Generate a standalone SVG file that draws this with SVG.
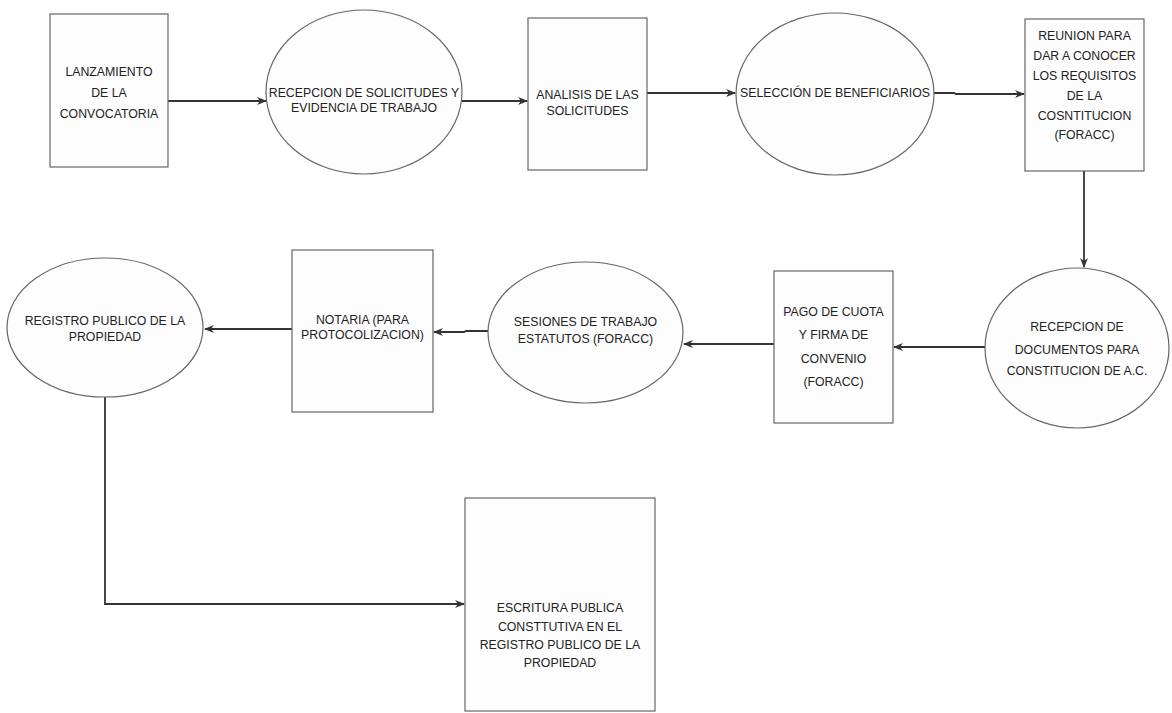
<svg xmlns="http://www.w3.org/2000/svg" width="1172" height="713" viewBox="0 0 1172 713">
<style>
.shape{fill:#fdfdfd;stroke:#666;stroke-width:1.2}
.t{font-family:"Liberation Sans",Arial,sans-serif;font-size:12.3px;fill:#222;text-anchor:middle}
.c{fill:none;stroke:#333;stroke-width:1.8}
</style>
<defs>
<marker id="ah" markerWidth="10" markerHeight="10" refX="9" refY="5" orient="auto" markerUnits="userSpaceOnUse">
<path d="M0,1 L10,5 L0,9 L3,5 Z" fill="#333"/>
</marker>
</defs>
<rect width="1172" height="713" fill="#ffffff"/>
<g id="connectors">
<line class="c" x1="168" y1="101" x2="266" y2="101" marker-end="url(#ah)"/>
<line class="c" x1="462" y1="101" x2="527" y2="101" marker-end="url(#ah)"/>
<line class="c" x1="647" y1="93" x2="735" y2="93" marker-end="url(#ah)"/>
<path class="c" d="M934,93 L954,93 L956,94 L1024,94" marker-end="url(#ah)"/>
<line class="c" x1="1084" y1="171" x2="1084" y2="267" marker-end="url(#ah)"/>
<line class="c" x1="985" y1="347" x2="894" y2="347" marker-end="url(#ah)"/>
<line class="c" x1="774" y1="344" x2="684" y2="344" marker-end="url(#ah)"/>
<path class="c" d="M488,331 L466,331 L464,332 L434,332" marker-end="url(#ah)"/>
<line class="c" x1="292" y1="329" x2="205" y2="329" marker-end="url(#ah)"/>
<path class="c" d="M105,397 L105,604 L464,604" marker-end="url(#ah)"/>
</g>
<g id="n1">
<rect class="shape" x="50" y="14" width="118" height="153"/>
<text class="t" x="109" y="76" font-size="13">LANZAMIENTO</text>
<text class="t" x="109" y="97" font-size="13">DE LA</text>
<text class="t" x="109" y="118" font-size="13">CONVOCATORIA</text>
</g>
<g id="n2">
<ellipse class="shape" cx="364" cy="92" rx="98" ry="82"/>
<text class="t" x="364" y="97">RECEPCION DE SOLICITUDES Y</text>
<text class="t" x="364" y="112">EVIDENCIA DE TRABAJO</text>
</g>
<g id="n3">
<rect class="shape" x="528" y="18" width="119" height="152"/>
<text class="t" x="587.5" y="99">ANALISIS DE LAS</text>
<text class="t" x="587.5" y="115">SOLICITUDES</text>
</g>
<g id="n4">
<ellipse class="shape" cx="835" cy="94" rx="99" ry="81"/>
<text class="t" x="835" y="97">SELECCIÓN DE BENEFICIARIOS</text>
</g>
<g id="n5">
<rect class="shape" x="1025" y="19" width="119" height="152"/>
<text class="t" x="1084.5" y="40">REUNION PARA</text>
<text class="t" x="1084.5" y="60">DAR A CONOCER</text>
<text class="t" x="1084.5" y="80">LOS REQUISITOS</text>
<text class="t" x="1084.5" y="99.5">DE LA</text>
<text class="t" x="1084.5" y="119.5">COSNTITUCION</text>
<text class="t" x="1084.5" y="139">(FORACC)</text>
</g>
<g id="n6">
<ellipse class="shape" cx="1077" cy="348" rx="92" ry="80"/>
<text class="t" x="1077" y="331">RECEPCION DE</text>
<text class="t" x="1077" y="354">DOCUMENTOS PARA</text>
<text class="t" x="1077" y="375">CONSTITUCION DE A.C.</text>
</g>
<g id="n7">
<rect class="shape" x="774" y="271" width="119" height="152"/>
<text class="t" x="833.5" y="316">PAGO DE CUOTA</text>
<text class="t" x="833.5" y="339">Y FIRMA DE</text>
<text class="t" x="833.5" y="363">CONVENIO</text>
<text class="t" x="833.5" y="386">(FORACC)</text>
</g>
<g id="n8">
<ellipse class="shape" cx="585.5" cy="332.5" rx="97.5" ry="70.5"/>
<text class="t" x="585.5" y="326" font-size="11.8">SESIONES DE TRABAJO</text>
<text class="t" x="585.5" y="343" font-size="11.8">ESTATUTOS (FORACC)</text>
</g>
<g id="n9">
<rect class="shape" x="292" y="250" width="141" height="162"/>
<text class="t" x="362.5" y="324" font-size="11.8">NOTARIA (PARA</text>
<text class="t" x="362.5" y="339" font-size="11.8">PROTOCOLIZACION)</text>
</g>
<g id="n10">
<ellipse class="shape" cx="105" cy="327.5" rx="98" ry="69.5"/>
<text class="t" x="105" y="325">REGISTRO PUBLICO DE LA</text>
<text class="t" x="105" y="341">PROPIEDAD</text>
</g>
<g id="n11">
<rect class="shape" x="465" y="498" width="190" height="213"/>
<text class="t" x="560" y="612" font-size="11.5">ESCRITURA PUBLICA</text>
<text class="t" x="560" y="631" font-size="11.5">CONSTTUTIVA EN EL</text>
<text class="t" x="560" y="649" font-size="11.5">REGISTRO PUBLICO DE LA</text>
<text class="t" x="560" y="667" font-size="11.5">PROPIEDAD</text>
</g>
</svg>
